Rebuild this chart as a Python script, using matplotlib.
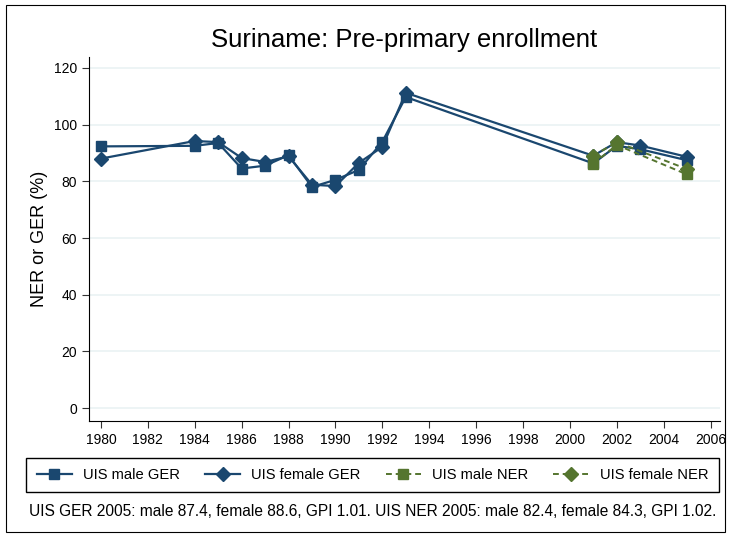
import matplotlib
matplotlib.use("Agg")
import matplotlib.pyplot as plt
from matplotlib.patches import Rectangle

# GER series (UIS)
ger_years = [1980, 1984, 1985, 1986, 1987, 1988, 1989, 1990, 1991, 1992, 1993, 2001, 2002, 2003, 2005]
male_ger = [92.3, 92.5, 93.5, 84.5, 85.5, 89.2, 78.0, 80.5, 84.0, 93.9, 109.7, 86.3, 92.5, 91.3, 87.4]
female_ger = [88.0, 94.2, 93.8, 88.2, 86.8, 88.8, 78.8, 78.3, 86.5, 92.1, 111.2, 89.0, 93.8, 92.6, 88.6]

# NER series (UIS)
ner_years = [2001, 2002, 2005]
male_ner = [86.2, 92.8, 82.4]
female_ner = [89.0, 93.8, 84.3]

note = ("UIS GER 2005: male 87.4, female 88.6, GPI 1.01. "
        "UIS NER 2005: male 82.4, female 84.3, GPI 1.02.")

blue = "#1a476f"
green = "#55752f"

plt.rcParams['font.family'] = ['Liberation Sans', 'DejaVu Sans']

fig = plt.figure(figsize=(7.31, 5.38), dpi=100)
ax = fig.add_axes([0.1218, 0.2175, 0.863, 0.6765])

ax.plot(ger_years, male_ger, color=blue, lw=1.6, marker='s', ms=7.5, label='UIS male GER')
ax.plot(ger_years, female_ger, color=blue, lw=1.6, marker='D', ms=7.5, label='UIS female GER')
ax.plot(ner_years, male_ner, color=green, lw=1.4, ls=(0, (3, 2)), marker='s', ms=7.5, label='UIS male NER')
ax.plot(ner_years, female_ner, color=green, lw=1.4, ls=(0, (3, 2)), marker='D', ms=7.5, label='UIS female NER')

ax.set_xlim(1979.49, 2006.4)
ax.set_ylim(-4.5, 123.8)
ax.set_xticks(range(1980, 2007, 2))
ax.set_yticks(range(0, 121, 20))
ax.yaxis.grid(True, color='#eaf2f3', lw=1.2)
ax.set_axisbelow(True)
for s in ['top', 'right']:
    ax.spines[s].set_visible(False)
ax.tick_params(direction='out', length=5, labelsize=10, color='#333333')
ax.set_ylabel('NER or GER (%)', fontsize=13)
ax.set_title('Suriname: Pre-primary enrollment', fontsize=18.5, pad=7)

fig.legend(loc='center', bbox_to_anchor=(0.5096, 0.117), ncol=4, frameon=True,
           fancybox=False, edgecolor='black', fontsize=10.6, handlelength=2.4,
           handletextpad=0.75, columnspacing=1.7, borderpad=0.7, framealpha=1)

fig.text(0.039, 0.050, note, fontsize=11.2, va='center')

fig.patches.append(Rectangle((0.008, 0.012), 0.984, 0.978, transform=fig.transFigure,
                             fill=False, edgecolor='black', lw=0.8))

fig.savefig('out.png', dpi=100)
